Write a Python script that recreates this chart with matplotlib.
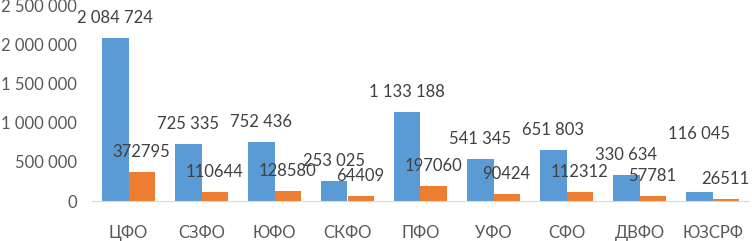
import matplotlib
matplotlib.use("Agg")
import matplotlib.pyplot as plt
import numpy as np

categories = ["ЦФО", "СЗФО", "ЮФО", "СКФО", "ПФО", "УФО", "СФО", "ДВФО", "ЮЗСРФ"]
series1 = [2084724, 725335, 752436, 253025, 1133188, 541345, 651803, 330634, 116045]
series2 = [372795, 110644, 128580, 64409, 197060, 90424, 112312, 57781, 26511]
yticks = [0, 500000, 1000000, 1500000, 2000000, 2500000]

def fmt_space(v):
    return f"{v:,}".replace(",", " ")

plt.rcParams['font.family'] = ['Lato', 'DejaVu Sans']

fig = plt.figure(figsize=(7.52, 2.41), dpi=100)
ax = fig.add_axes([92/752, 40/241, 657/752, 196/241])

x = np.arange(len(categories))
w = 0.36
ax.bar(x - w/2, series1, w, color="#5B9BD5")
ax.bar(x + w/2, series2, w, color="#ED7D31")

ax.set_xlim(-0.5, len(categories) - 0.5)
ax.set_ylim(0, 2500000)
ax.set_yticks(yticks)
ax.set_yticklabels([fmt_space(v) for v in yticks])
ax.set_xticks(x)
ax.set_xticklabels(categories)

for s in ["top", "right", "left"]:
    ax.spines[s].set_visible(False)
ax.spines["bottom"].set_color("#D9D9D9")
ax.tick_params(axis="both", length=0, colors="#595959", labelsize=12)
ax.tick_params(axis="x", pad=17)
ax.tick_params(axis="y", pad=11)

px = 2500000 / 196
off = 20 * px
# extra vertical shift (pixels) for labels that were moved in the original
extra1 = [0, 0, 0, 0, 0, 0, 0, 0, 38]
for xi, v, e in zip(x - w/2, series1, extra1):
    ax.text(xi, v + off + e * px, fmt_space(v), ha="center", va="center",
            color="#404040", fontsize=12, clip_on=False)
for xi, v in zip(x + w/2, series2):
    ax.text(xi, v + off, str(v), ha="center", va="center",
            color="#404040", fontsize=12, clip_on=False)

fig.savefig("out.png", dpi=100)
